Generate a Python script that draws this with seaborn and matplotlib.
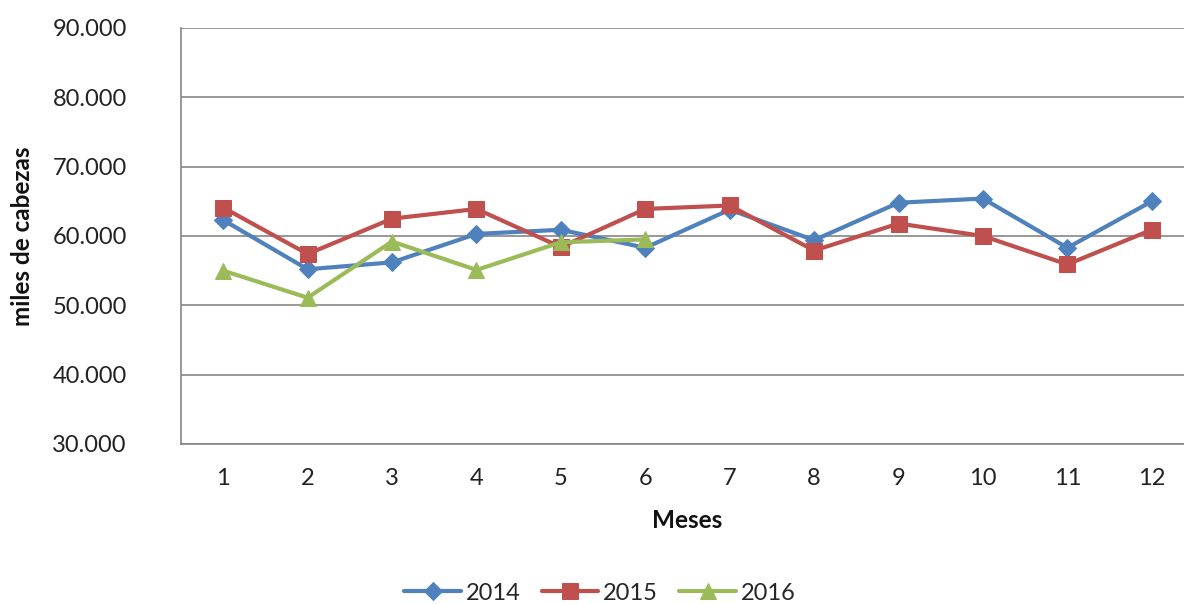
import pandas as pd
import matplotlib.pyplot as plt
import seaborn as sns
from matplotlib.ticker import FuncFormatter, FixedLocator

sns.set_theme(style="white")
plt.rcParams['font.family'] = ['Lato', 'DejaVu Sans']

# Monthly data (heads)
months = list(range(1, 13))
y2014 = [62300, 55200, 56200, 60300, 60900, 58300, 63800, 59400, 64800, 65400, 58300, 65000]
y2015 = [64100, 57400, 62500, 63900, 58400, 63900, 64400, 57900, 61800, 60000, 55900, 60900]
months_2016 = [1, 2, 3, 4, 5, 6]
y2016 = [55000, 51100, 59200, 55100, 59100, 59500]

colors = {'2014': '#4F81BD', '2015': '#C0504D', '2016': '#9BBB59'}

fig = plt.figure(figsize=(11.84, 6.04), dpi=100)
ax = fig.add_axes([181 / 1184, 160 / 604, 1013 / 1184, 416 / 604])

sns.lineplot(x=months, y=y2014, ax=ax, color=colors['2014'], lw=3, marker='D',
             markersize=9, markeredgecolor=colors['2014'], label='2014')
sns.lineplot(x=months, y=y2015, ax=ax, color=colors['2015'], lw=3, marker='s',
             markersize=11, markeredgecolor=colors['2015'], label='2015')
sns.lineplot(x=months_2016, y=y2016, ax=ax, color=colors['2016'], lw=3, marker='^',
             markersize=11, markeredgecolor=colors['2016'], label='2016')

ax.set_xlim(0.5, 12.5)
ax.set_ylim(30000, 90000)
ax.set_yticks(range(30000, 90001, 10000))
ax.yaxis.set_major_formatter(FuncFormatter(lambda v, p: f"{v:,.0f}".replace(",", ".")))
ax.set_xticks(months)
ax.xaxis.set_minor_locator(FixedLocator([m + 0.5 for m in range(0, 13)]))
ax.tick_params(axis='x', which='major', length=0, pad=17, labelsize=17, colors='#222222')
ax.tick_params(axis='x', which='minor', length=7, width=1.2, color='#868686', direction='out')
ax.tick_params(axis='y', which='major', length=6, width=1.2, color='#868686', direction='out',
               pad=33, labelsize=17, labelcolor='#222222')

ax.grid(axis='y', color='#868686', lw=1.2)
ax.set_axisbelow(True)
for side in ['top', 'right']:
    ax.spines[side].set_visible(False)
for side in ['left', 'bottom']:
    ax.spines[side].set_color('#868686')
    ax.spines[side].set_linewidth(1.2)

ax.set_xlabel('Meses', fontsize=17.5, fontweight='bold', labelpad=15, color='#111111')
ax.set_ylabel('miles de cabezas', fontsize=17.5, fontweight='bold', color='#111111')
ax.yaxis.set_label_coords(-147 / 1013, 0.5)

ax.legend(loc='center', bbox_to_anchor=(600 / 1184, 11 / 604), bbox_transform=fig.transFigure,
          ncol=3, frameon=False, fontsize=17, handlelength=2.4, columnspacing=0.9,
          handletextpad=0.2)

fig.savefig('out.png', dpi=100)
